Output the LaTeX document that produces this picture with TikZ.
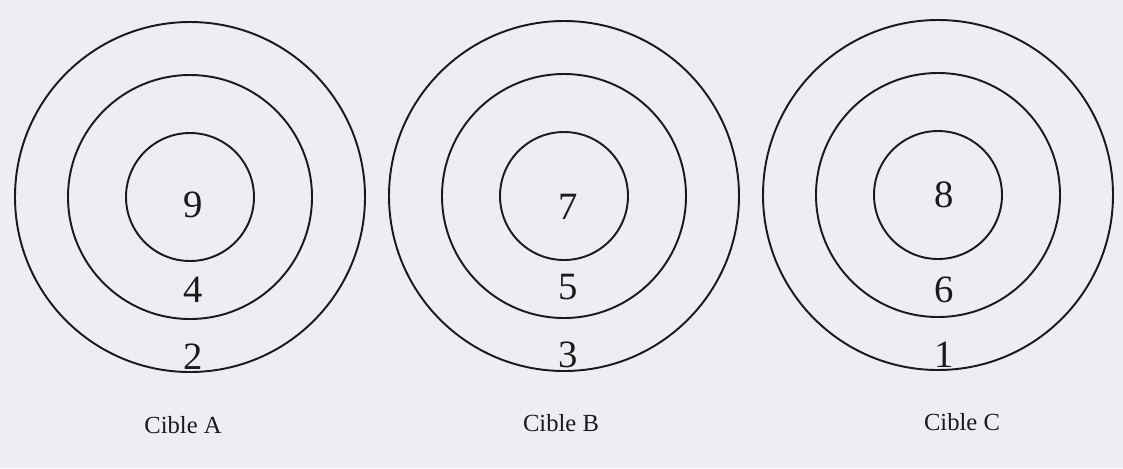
\documentclass[tikz,border=0pt]{standalone}
\usepackage{fontspec}
\setmainfont{Liberation Serif}
\usepackage{tikz}
\usetikzlibrary{positioning}
\usepackage{xcolor}
\definecolor{paperGrey}{HTML}{EDEEF3}
\definecolor{inkBlack}{HTML}{1A1A1A}

\begin{document}
\begin{tikzpicture}[
    x=0.02cm, y=-0.02cm,
    ring/.style={draw=inkBlack, line width=1.1pt},
    score/.style={text=inkBlack, inner sep=0pt, font=\fontsize{22}{22}\selectfont},
    caption/.style={text=inkBlack, inner sep=0pt, font=\fontsize{14}{14}\selectfont}
]
    \fill[paperGrey] (0,0) rectangle (1123,468);
    \useasboundingbox (0,0) rectangle (1123,468);

    % centres of the three targets
    \coordinate (A) at (190,197);
    \coordinate (B) at (564,196);
    \coordinate (C) at (938,195);

    % target A
    \draw[ring] (A) circle[radius=175];
    \draw[ring] (A) circle[radius=122];
    \draw[ring] (A) circle[radius=64];
    \node[score] (A1) at (193,205) {9};
    \node[score] (A2) at (193,290) {4};
    \node[score] (A3) at (193,357) {2};
    \node[caption] (capA) at (183,425) {Cible A};

    % target B
    \draw[ring] (B) circle[radius=175];
    \draw[ring] (B) circle[radius=122];
    \draw[ring] (B) circle[radius=64];
    \node[score] (B1) at (568,207) {7};
    \node[score] (B2) at (568,287) {5};
    \node[score] (B3) at (568,355) {3};
    \node[caption] (capB) at (561,423) {Cible B};

    % target C
    \draw[ring] (C) circle[radius=175];
    \draw[ring] (C) circle[radius=122];
    \draw[ring] (C) circle[radius=64];
    \node[score] (C1) at (944,195) {8};
    \node[score] (C2) at (944,290) {6};
    \node[score] (C3) at (944,355) {1};
    \node[caption] (capC) at (962,422) {Cible C};
\end{tikzpicture}
\end{document}
